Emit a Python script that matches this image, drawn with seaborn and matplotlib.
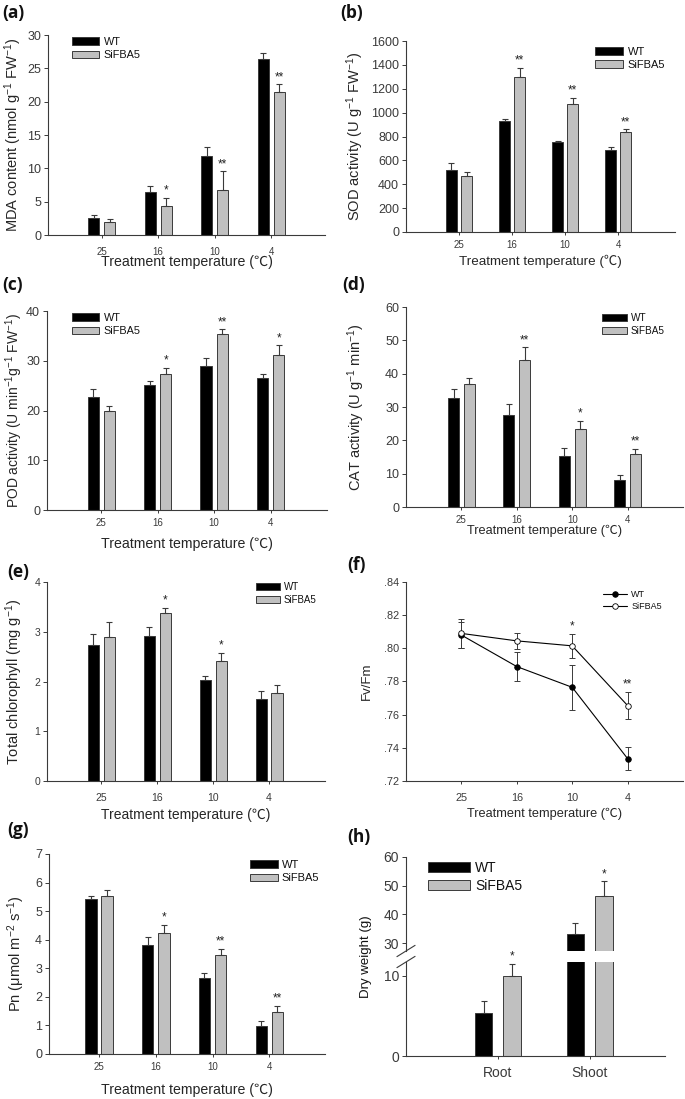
import numpy as np
import pandas as pd
import matplotlib
matplotlib.use("Agg")
import matplotlib.pyplot as plt
from matplotlib.ticker import FuncFormatter
import seaborn as sns

# Datos
temps = ["25", "16", "10", "4"]
lines = ["WT", "SiFBA5"]

mda_wt = [2.5, 6.4, 11.9, 26.35]
mda_wt_err = [0.5, 0.95, 1.25, 0.9]
mda_sif = [2.0, 4.4, 6.75, 21.4]
mda_sif_err = [0.35, 1.2, 2.8, 1.2]
mda_stars = ["", "*", "**", "**"]

sod_wt = [518, 928, 750, 687]
sod_wt_err = [57, 16, 11, 22]
sod_sif = [469, 1300, 1075, 835]
sod_sif_err = [31, 72, 50, 25]
sod_stars = ["", "**", "**", "**"]

pod_wt = [22.7, 25.2, 29.0, 26.5]
pod_wt_err = [1.7, 0.8, 1.6, 0.9]
pod_sif = [20.0, 27.4, 35.3, 31.1]
pod_sif_err = [0.9, 1.2, 1.0, 2.0]
pod_stars = ["", "*", "**", "*"]

cat_wt = [32.8, 27.6, 15.2, 8.0]
cat_wt_err = [2.6, 3.4, 2.6, 1.6]
cat_sif = [36.8, 44.1, 23.3, 16.0]
cat_sif_err = [1.8, 3.8, 2.5, 1.5]
cat_stars = ["", "**", "*", "**"]

chl_wt = [2.73, 2.91, 2.04, 1.65]
chl_wt_err = [0.22, 0.19, 0.08, 0.16]
chl_sif = [2.89, 3.38, 2.42, 1.76]
chl_sif_err = [0.31, 0.10, 0.16, 0.17]
chl_stars = ["", "*", "*", ""]

fv_wt = [0.808, 0.789, 0.7765, 0.7335]
fv_wt_err = [0.008, 0.0086, 0.0134, 0.007]
fv_sif = [0.809, 0.8045, 0.8015, 0.7655]
fv_sif_err = [0.0085, 0.005, 0.0074, 0.0083]
fv_stars = ["", "", "*", "**"]

pn_wt = [5.42, 3.81, 2.65, 0.99]
pn_wt_err = [0.11, 0.28, 0.18, 0.17]
pn_sif = [5.54, 4.25, 3.47, 1.46]
pn_sif_err = [0.21, 0.27, 0.21, 0.22]
pn_stars = ["", "*", "**", "**"]

organs = ["Root", "Shoot"]
dw_wt = [5.4, 33.2]
dw_wt_err = [1.4, 3.7]
dw_sif = [9.9, 46.6]
dw_sif_err = [1.6, 4.9]
dw_stars = ["*", "*"]

W, H = 685, 1099
EDGE = "#3a3a3a"
GRAY = "#c0c0c0"

sns.set_style("ticks")
plt.rcParams["font.family"] = ["Liberation Sans", "Noto Sans CJK SC", "DejaVu Sans"]
plt.rcParams["axes.edgecolor"] = EDGE
plt.rcParams["axes.linewidth"] = 0.8
plt.rcParams["xtick.color"] = EDGE
plt.rcParams["ytick.color"] = EDGE
plt.rcParams["text.color"] = "#111111"
plt.rcParams["mathtext.default"] = "regular"

fig = plt.figure(figsize=(W / 100, H / 100), dpi=100)


def rect(l, t, r, b):
    return [l / W, 1 - b / H, (r - l) / W, (b - t) / H]


def tidy(ax, ytick_fs, xtick_fs, xpad=3):
    sns.despine(ax=ax)
    ax.tick_params(axis="y", labelsize=ytick_fs, length=3, width=0.7, pad=2)
    ax.tick_params(axis="x", labelsize=xtick_fs, length=2.5, width=0.7, pad=xpad)


def bar_panel(ax, cats, wt, wt_err, sif, sif_err, stars, width=0.57, gap=0.3,
              star_fs=8.5):
    df = pd.DataFrame({
        "cat": list(cats) * 2,
        "line": ["WT"] * len(cats) + ["SiFBA5"] * len(cats),
        "value": list(wt) + list(sif),
    })
    sns.barplot(data=df, x="cat", y="value", hue="line", order=cats,
                hue_order=lines, palette={"WT": "black", "SiFBA5": GRAY},
                width=width, gap=gap, errorbar=None, edgecolor=EDGE,
                linewidth=0.7, saturation=1, legend=False, ax=ax)
    bars = list(ax.containers[:2])
    for cont, err in zip(bars, [wt_err, sif_err]):
        xs = [b.get_x() + b.get_width() / 2 for b in cont]
        ys = [b.get_height() for b in cont]
        ax.errorbar(xs, ys, yerr=[np.zeros(len(err)), err], fmt="none",
                    ecolor=EDGE, elinewidth=0.8, capsize=2.5, capthick=0.8)
    xs = [b.get_x() + b.get_width() / 2 for b in bars[1]]
    tops = np.array(sif) + np.array(sif_err)
    for x, y, s in zip(xs, tops, stars):
        if s:
            ax.annotate(s, (x, y), xytext=(0, 1.0), textcoords="offset points",
                        ha="center", va="bottom", fontsize=star_fs,
                        color="#222222", annotation_clip=False)
    ax.set_xlabel("")
    ax.set_ylabel("")
    return bars


def bar_legend(ax, bars, loc, anchor, fs, hl=2.5):
    ax.legend(bars, lines, loc=loc, bbox_to_anchor=anchor, frameon=False,
              fontsize=fs, handlelength=hl, handleheight=0.7,
              handletextpad=0.4, labelspacing=0.3, borderpad=0,
              borderaxespad=0)


def temp_xlabel(ax, y, fs=10):
    ax.set_xlabel("Treatment temperature (\u2103)", fontsize=fs)
    ax.xaxis.set_label_coords(0.5, y)


def panel_tag(x, y, s):
    fig.text(x / W, 1 - y / H, s, fontsize=12.5, fontweight="bold",
             family=["Open Sans", "DejaVu Sans"], ha="left", va="center")


# (a) MDA
ax = fig.add_axes(rect(48, 35, 325, 235))
bars = bar_panel(ax, temps, mda_wt, mda_wt_err, mda_sif, mda_sif_err, mda_stars)
ax.set_ylim(0, 30)
ax.set_yticks(range(0, 31, 5))
ax.set_xlim(-0.95, 3.95)
tidy(ax, 9, 7, xpad=6)
bar_legend(ax, bars, "upper left", (0.087, 0.99), 7.8)
ax.set_ylabel("MDA content (nmol g$^{-1}$ FW$^{-1}$)", fontsize=10.5)
ax.yaxis.set_label_coords(-0.085, 0.5)
temp_xlabel(ax, -0.10, 10.2)
panel_tag(2, 13, "(a)")

# (b) SOD
ax = fig.add_axes(rect(406, 41, 675, 232))
bars = bar_panel(ax, temps, sod_wt, sod_wt_err, sod_sif, sod_sif_err, sod_stars)
ax.set_ylim(0, 1600)
ax.set_yticks(range(0, 1601, 200))
ax.set_xlim(-1.0, 4.07)
tidy(ax, 9, 7, xpad=3)
bar_legend(ax, bars, "upper right", (0.963, 0.97), 8)
ax.set_ylabel("SOD activity (U g$^{-1}$ FW$^{-1}$)", fontsize=10.5)
ax.yaxis.set_label_coords(-0.15, 0.5)
temp_xlabel(ax, -0.12, 9.6)
panel_tag(340, 13, "(b)")

# (c) POD
ax = fig.add_axes(rect(47, 311, 327, 510))
bars = bar_panel(ax, temps, pod_wt, pod_wt_err, pod_sif, pod_sif_err, pod_stars)
ax.set_ylim(0, 40)
ax.set_yticks(range(0, 41, 10))
ax.set_xlim(-0.96, 4.0)
tidy(ax, 9, 7, xpad=3.5)
bar_legend(ax, bars, "upper left", (0.09, 0.99), 7.8)
ax.set_ylabel("POD activity (U min$^{-1}$g$^{-1}$ FW$^{-1}$)", fontsize=10)
ax.yaxis.set_label_coords(-0.079, 0.5)
temp_xlabel(ax, -0.136, 10.2)
panel_tag(2, 285, "(c)")

# (d) CAT
ax = fig.add_axes(rect(406, 307, 683, 507))
bars = bar_panel(ax, temps, cat_wt, cat_wt_err, cat_sif, cat_sif_err, cat_stars)
ax.set_ylim(0, 60)
ax.set_yticks(range(0, 61, 10))
ax.set_xlim(-1.0, 4.0)
tidy(ax, 9, 7, xpad=3)
bar_legend(ax, bars, "upper right", (0.935, 0.97), 7.2)
ax.set_ylabel("CAT activity (U g$^{-1}$ min$^{-1}$)", fontsize=10.5)
ax.yaxis.set_label_coords(-0.141, 0.5)
temp_xlabel(ax, -0.09, 9.2)
panel_tag(342, 285, "(d)")

# (e) chlorophyll
ax = fig.add_axes(rect(47, 582, 325, 781))
bars = bar_panel(ax, temps, chl_wt, chl_wt_err, chl_sif, chl_sif_err, chl_stars)
ax.set_ylim(0, 4)
ax.set_yticks(range(0, 5))
ax.set_xlim(-0.97, 4.0)
tidy(ax, 7.5, 7.5, xpad=6)
bar_legend(ax, bars, "upper right", (0.97, 1.0), 7)
ax.set_ylabel("Total chlorophyll (mg g$^{-1}$)", fontsize=10.5)
ax.yaxis.set_label_coords(-0.079, 0.5)
temp_xlabel(ax, -0.135, 10)
panel_tag(7, 572, "(e)")

# (f) Fv/Fm
ax = fig.add_axes(rect(406, 582, 683, 781))
df_f = pd.DataFrame({
    "temp": temps * 2,
    "line": ["WT"] * 4 + ["SiFBA5"] * 4,
    "value": fv_wt + fv_sif,
})
sns.pointplot(data=df_f, x="temp", y="value", hue="line", order=temps,
              hue_order=lines, palette={"WT": "black", "SiFBA5": "black"},
              markers="o", errorbar=None, markersize=4, linewidth=0.8,
              legend=False, ax=ax)
fv_lines = [ln for ln in ax.lines if len(ln.get_xdata()) == 4][:2]
fv_lines[1].set_markerfacecolor("white")
fv_lines[1].set_markeredgecolor("black")
for ln, err, z in zip(fv_lines, [fv_wt_err, fv_sif_err], [3, 4]):
    ln.set_zorder(z)
    ax.errorbar(ln.get_xdata(), ln.get_ydata(), yerr=err, fmt="none",
                ecolor=EDGE, elinewidth=0.7, capsize=2.5, capthick=0.7, zorder=2)
xs = fv_lines[1].get_xdata()
for x, y, e, s in zip(xs, fv_sif, fv_sif_err, fv_stars):
    if s:
        ax.annotate(s, (x, y + e), xytext=(0, 1.0), textcoords="offset points",
                    ha="center", va="bottom", fontsize=8.5, color="#222222")
ax.set_ylim(0.72, 0.84)
ax.set_yticks(np.arange(0.72, 0.841, 0.02))
ax.yaxis.set_major_formatter(FuncFormatter(lambda v, p: f"{v:.2f}".lstrip("0")))
ax.set_xlim(-1.0, 4.0)
tidy(ax, 7.8, 7.8, xpad=6)
ax.legend(fv_lines, lines, loc="upper right", bbox_to_anchor=(0.924, 0.96),
          frameon=False, fontsize=6.5, handlelength=2.6, handletextpad=0.5,
          labelspacing=0.3, borderpad=0, borderaxespad=0)
ax.set_ylabel("Fv/Fm", fontsize=9.5)
ax.yaxis.set_label_coords(-0.119, 0.5)
temp_xlabel(ax, -0.135, 9.2)
panel_tag(347, 565, "(f)")

# (g) Pn
ax = fig.add_axes(rect(49, 854, 325, 1054))
bars = bar_panel(ax, temps, pn_wt, pn_wt_err, pn_sif, pn_sif_err, pn_stars)
ax.set_ylim(0, 7)
ax.set_yticks(range(0, 8))
ax.set_xlim(-0.88, 3.98)
tidy(ax, 9, 7, xpad=3)
bar_legend(ax, bars, "upper right", (0.98, 0.97), 8)
ax.set_ylabel("Pn (\u03bcmol m$^{-2}$ s$^{-1}$)", fontsize=10.5)
ax.yaxis.set_label_coords(-0.08, 0.5)
temp_xlabel(ax, -0.145, 10.2)
panel_tag(7, 830, "(g)")

# (h) dry weight, broken axis
ax_top = fig.add_axes(rect(406, 857, 665, 951))
ax_bot = fig.add_axes(rect(406, 962, 665, 1056))
for a in (ax_top, ax_bot):
    bar_panel(a, organs, dw_wt, dw_wt_err, dw_sif, dw_sif_err,
              ["", ""], width=0.62, gap=0.39)
    a.set_xlim(-1.0, 1.82)
    tidy(a, 10, 10, xpad=5)
ax_top.set_ylim(27.3, 60)
ax_top.set_yticks([30, 40, 50, 60])
ax_bot.set_ylim(0, 11.7)
ax_bot.set_yticks([0, 10])
ax_top.spines["bottom"].set_visible(False)
ax_top.tick_params(axis="x", bottom=False, labelbottom=False)
sif_x = [b.get_x() + b.get_width() / 2 for b in ax_bot.containers[1]]
for x, v, e, s in zip(sif_x, dw_sif, dw_sif_err, dw_stars):
    a = ax_bot if v + e < 20 else ax_top
    a.annotate(s, (x, v + e), xytext=(0, 1.0), textcoords="offset points",
               ha="center", va="bottom", fontsize=8.5, color="#222222",
               annotation_clip=False)
bar_legend(ax_top, list(ax_top.containers[:2]), "upper left", (0.085, 0.96),
           10, hl=3.0)
for a, yy in ((ax_top, 0.0), (ax_bot, 1.0)):
    a.plot([-0.035, 0.035], [yy - 0.06, yy + 0.06], transform=a.transAxes,
           color=EDGE, lw=0.8, clip_on=False)
fig.text(372 / W, 1 - 957 / H, "Dry weight (g)", rotation=90, fontsize=9.5,
         ha="right", va="center")
panel_tag(347, 837, "(h)")

fig.savefig("out.png", dpi=100)
